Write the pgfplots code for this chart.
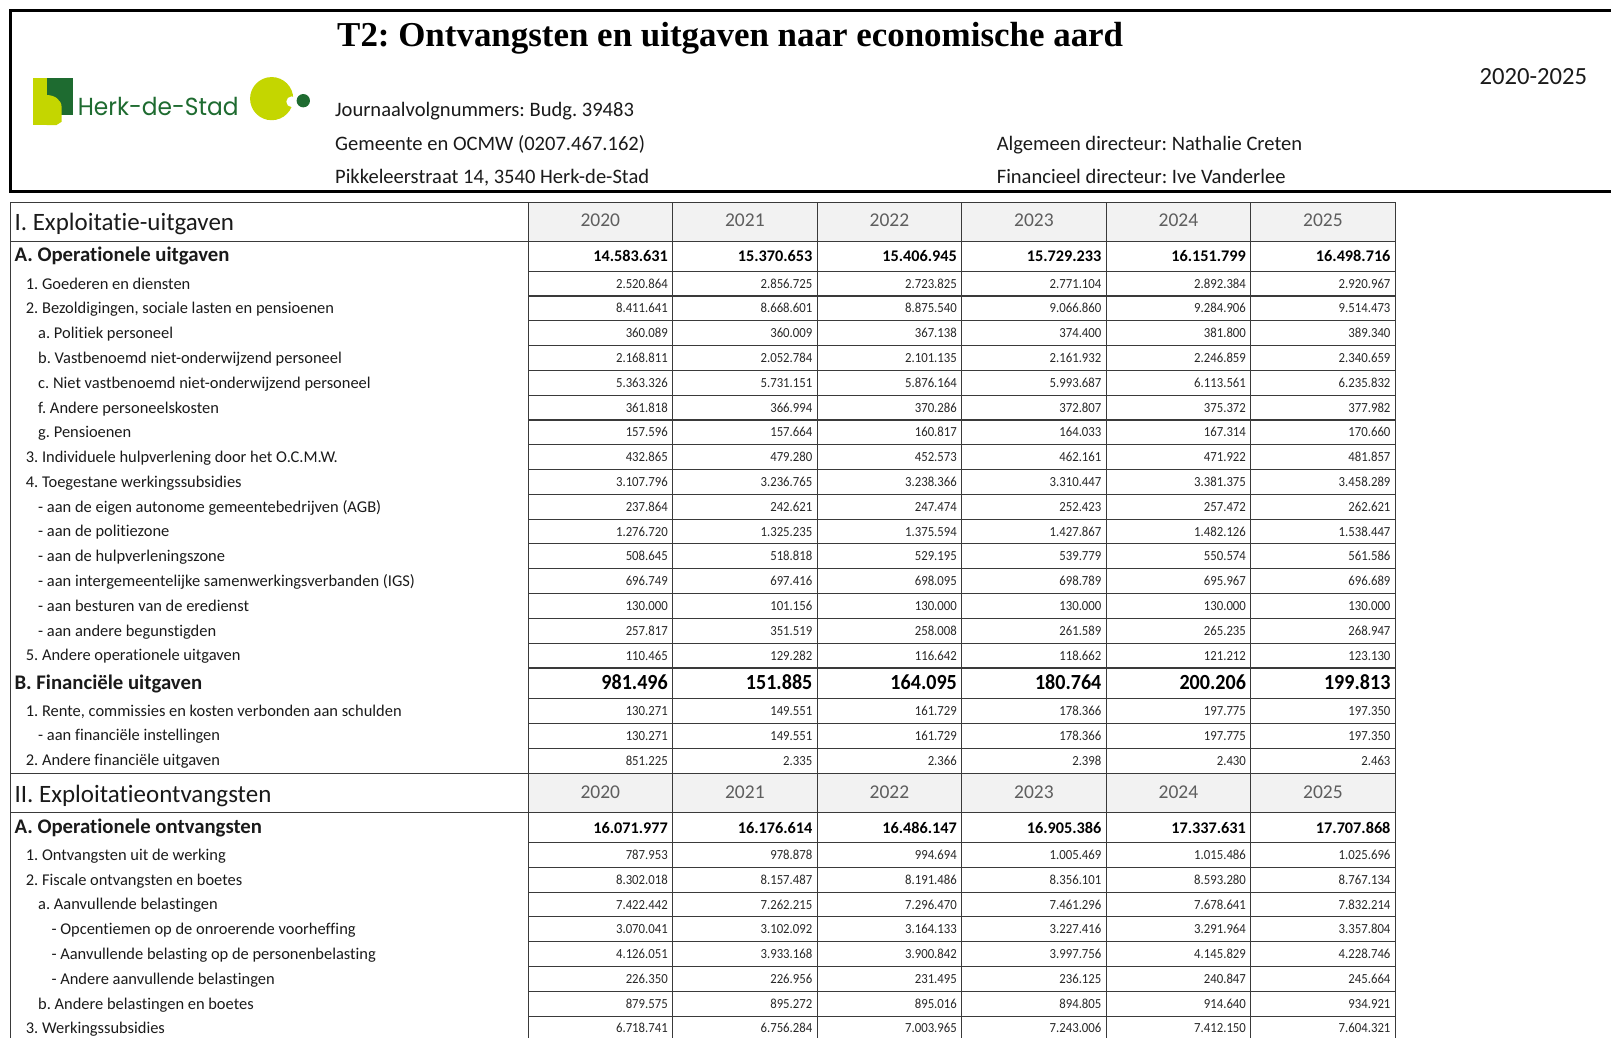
\documentclass[border=0pt]{standalone}
\usepackage{graphicx}
\usepackage{pgfplots}
\pgfplotsset{compat=1.18}
\usepackage{pgfplotstable}
\usepackage{fontspec}
\setmainfont{Carlito}[Ligatures=NoCommon]
\newfontfamily\titlefont{Liberation Serif}
\newfontfamily\logofont{Poppins}
\definecolor{lime}{HTML}{C4D600}
\definecolor{dgreen}{HTML}{1E6B30}
\definecolor{txt}{HTML}{1A1A1A}
\definecolor{numc}{HTML}{262626}
\definecolor{yr}{HTML}{5E5E5E}
\definecolor{gridc}{HTML}{3A3A3A}
\definecolor{hdr}{HTML}{F2F2F2}
\frenchspacing

% integer -> Dutch thousands format (1.234.567)
\newcount\fa \newcount\fb \newcount\fc
\def\threedig#1{\ifnum#1<100 0\fi\ifnum#1<10 0\fi\the#1}
\def\fmtnum#1{%
  \fa=#1\relax
  \ifnum\fa<1000 \the\fa
  \else
    \fb=\numexpr(\fa-500)/1000\relax
    \fc=\numexpr\fa-\fb*1000\relax
    \ifnum\fb<1000 \the\fb.\threedig\fc
    \else
      \fa=\numexpr(\fb-500)/1000\relax
      \fb=\numexpr\fb-\fa*1000\relax
      \the\fa.\threedig\fb.\threedig\fc
    \fi
  \fi}

% ---------------- data (y = text baseline in picture units) ----------------
\pgfplotstableread{
y      v0       v1       v2       v3       v4       v5
280.5  2520864  2856725  2723825  2771104  2892384  2920967
304.6  8411641  8668601  8875540  9066860  9284906  9514473
328.8  360089   360009   367138   374400   381800   389340
352.9  2168811  2052784  2101135  2161932  2246859  2340659
377.0  5363326  5731151  5876164  5993687  6113561  6235832
401.2  361818   366994   370286   372807   375372   377982
425.3  157596   157664   160817   164033   167314   170660
449.4  432865   479280   452573   462161   471922   481857
473.5  3107796  3236765  3238366  3310447  3381375  3458289
497.7  237864   242621   247474   252423   257472   262621
521.8  1276720  1325235  1375594  1427867  1482126  1538447
545.9  508645   518818   529195   539779   550574   561586
570.1  696749   697416   698095   698789   695967   696689
594.2  130000   101156   130000   130000   130000   130000
618.3  257817   351519   258008   261589   265235   268947
642.5  110465   129282   116642   118662   121212   123130
696.4  130271   149551   161729   178366   197775   197350
720.4  130271   149551   161729   178366   197775   197350
744.7  851225   2335     2366     2398     2430     2463
836.5  787953   978878   994694   1005469  1015486  1025696
860.6  8302018  8157487  8191486  8356101  8593280  8767134
884.8  7422442  7262215  7296470  7461296  7678641  7832214
908.9  3070041  3102092  3164133  3227416  3291964  3357804
933.0  4126051  3933168  3900842  3997756  4145829  4228746
957.2  226350   226956   231495   236125   240847   245664
981.3  879575   895272   895016   894805   914640   934921
1005.4 6718741  6756284  7003965  7243006  7412150  7604321
}\rowsdata
\pgfplotstableread{
y      v0        v1        v2        v3        v4        v5
254.8  14583631  15370653  15406945  15729233  16151799  16498716
811.3  16071977  16176614  16486147  16905386  17337631  17707868
}\totalsA
\pgfplotstableread{
y      v0      v1      v2      v3      v4      v5
671.5  981496  151885  164095  180764  200206  199813
}\totalsB

\newcommand{\lab}[3]{\node[anchor=base west, inner sep=0pt, text=txt, font=\fontsize{16}{18}\selectfont] at (axis cs:#1,#2+0.8) {#3};}
\newcommand{\blab}[2]{\node[anchor=base west, inner sep=0pt, text=txt, font=\bfseries\fontsize{20.2}{22}\selectfont] at (axis cs:14,#1) {#2};}

\begin{document}
\begin{tikzpicture}
\begin{axis}[
  scale only axis, width=1568pt, height=1010pt,
  xmin=0, xmax=1568, ymin=0, ymax=1010, y dir=reverse,
  axis lines=none, clip=false]

% ---------- header box ----------
\draw[black, line width=3pt] (axis cs:1575,10) -- (axis cs:10,10) -- (axis cs:10,186.5) -- (axis cs:1575,186.5);
% logo
\fill[lime] (axis cs:31.8,76.2) rectangle (axis cs:45.6,121.7);
\fill[dgreen] (axis cs:45.4,76.2) rectangle (axis cs:70.7,112);
\fill[lime] (axis cs:45.4,121.7) -- (axis cs:45.4,92.5) .. controls (axis cs:53,92.5) and (axis cs:60,97) .. (axis cs:60,104.5) -- (axis cs:60,118.5) -- (axis cs:55,121.7) -- cycle;
\node[anchor=base west, inner sep=0pt, text=dgreen, font=\logofont\fontsize{24}{26}\selectfont] at (axis cs:75.5,112) {\scalebox{0.945}[1]{Herk-de-Stad}};
\fill[lime] (axis cs:264.4,96) circle[radius=21pt];
\fill[white] (axis cs:283.9,99) circle[radius=5.2pt];
\fill[dgreen] (axis cs:295.2,98) circle[radius=6.5pt];
% header texts
\node[anchor=base west, inner sep=0pt, text=black, font=\titlefont\bfseries\fontsize{34}{38}\selectfont] at (axis cs:328,45) {T2: Ontvangsten en uitgaven naar economische aard};
\node[anchor=base east, inner sep=0pt, text=txt, font=\fontsize{24}{26}\selectfont] at (axis cs:1545,82) {2020-2025};
\node[anchor=base west, inner sep=0pt, text=txt, font=\fontsize{20}{22}\selectfont] at (axis cs:326,113.5) {Journaalvolgnummers: Budg. 39483};
\node[anchor=base west, inner sep=0pt, text=txt, font=\fontsize{20}{22}\selectfont] at (axis cs:326,146) {Gemeente en OCMW (0207.467.162)};
\node[anchor=base west, inner sep=0pt, text=txt, font=\fontsize{20}{22}\selectfont] at (axis cs:326,178.5) {Pikkeleerstraat 14, 3540 Herk-de-Stad};
\node[anchor=base west, inner sep=0pt, text=txt, font=\fontsize{20}{22}\selectfont] at (axis cs:970,146) {Algemeen directeur: Nathalie Creten};
\node[anchor=base west, inner sep=0pt, text=txt, font=\fontsize{20}{22}\selectfont] at (axis cs:970,178.5) {Financieel directeur: Ive Vanderlee};

% ---------- table backgrounds ----------
\fill[hdr] (axis cs:514,197) rectangle (axis cs:1358,235);
\fill[hdr] (axis cs:514,753) rectangle (axis cs:1358,791);

% ---------- table grid ----------
\draw[gridc, line width=1.1pt] (axis cs:10,197) -- (axis cs:1358,197);
\draw[gridc, line width=1.1pt] (axis cs:10,235) -- (axis cs:1358,235);
\draw[gridc, line width=1.1pt] (axis cs:10,753) -- (axis cs:1358,753);
\draw[gridc, line width=1.1pt] (axis cs:10,791) -- (axis cs:1358,791);
\pgfplotsinvokeforeach{264,288.1,312.3,336.4,360.5,384.7,408.8,432.9,457.0,481.2,505.3,529.4,553.6,577.7,601.8,626.0,650.1,680,704.2,728.4,820,844.1,868.3,892.4,916.5,940.7,964.8,989,1013.1}{
  \draw[gridc, line width=1.1pt] (axis cs:514,#1) -- (axis cs:1358,#1);
}
\pgfplotsinvokeforeach{10,514,654.7,795.3,936,1076.7,1217.3,1358}{
  \draw[gridc, line width=1.1pt] (axis cs:#1,197) -- (axis cs:#1,1015);
}

% ---------- header rows ----------
\node[anchor=base west, inner sep=0pt, text=txt, font=\fontsize{24.3}{26}\selectfont] at (axis cs:14,224) {I. Exploitatie-uitgaven};
\node[anchor=base west, inner sep=0pt, text=txt, font=\fontsize{24.3}{26}\selectfont] at (axis cs:14,781) {II. Exploitatieontvangsten};
\pgfplotsinvokeforeach{0,...,5}{
  \node[anchor=base, inner sep=0pt, text=yr, font=\fontsize{19}{21}\selectfont] at (axis cs:{584.3+140.67*#1},220.5) {\the\numexpr2020+#1\relax};
  \node[anchor=base, inner sep=0pt, text=yr, font=\fontsize{19}{21}\selectfont] at (axis cs:{584.3+140.67*#1},777.5) {\the\numexpr2020+#1\relax};
}

% ---------- row labels ----------
\blab{254.6}{A. Operationele uitgaven}
\lab{25}{280.5}{1. Goederen en diensten}
\lab{25}{304.6}{2. Bezoldigingen, sociale lasten en pensioenen}
\lab{37}{328.8}{a. Politiek personeel}
\lab{37}{352.9}{b. Vastbenoemd niet-onderwijzend personeel}
\lab{37}{377.0}{c. Niet vastbenoemd niet-onderwijzend personeel}
\lab{37}{401.2}{f. Andere personeelskosten}
\lab{37}{425.3}{g. Pensioenen}
\lab{25}{449.4}{3. Individuele hulpverlening door het O.C.M.W.}
\lab{25}{473.5}{4. Toegestane werkingssubsidies}
\lab{37}{497.7}{- aan de eigen autonome gemeentebedrijven (AGB)}
\lab{37}{521.8}{- aan de politiezone}
\lab{37}{545.9}{- aan de hulpverleningszone}
\lab{37}{570.1}{- aan intergemeentelijke samenwerkingsverbanden (IGS)}
\lab{37}{594.2}{- aan besturen van de eredienst}
\lab{37}{618.3}{- aan andere begunstigden}
\lab{25}{642.5}{5. Andere operationele uitgaven}
\blab{670.6}{B. Financiële uitgaven}
\lab{25}{696.4}{1. Rente, commissies en kosten verbonden aan schulden}
\lab{37}{720.4}{- aan financiële instellingen}
\lab{25}{744.7}{2. Andere financiële uitgaven}
\blab{811.4}{A. Operationele ontvangsten}
\lab{25}{836.5}{1. Ontvangsten uit de werking}
\lab{25}{860.6}{2. Fiscale ontvangsten en boetes}
\lab{37}{884.8}{a. Aanvullende belastingen}
\lab{50}{908.9}{- Opcentiemen op de onroerende voorheffing}
\lab{50}{933.0}{- Aanvullende belasting op de personenbelasting}
\lab{50}{957.2}{- Andere aanvullende belastingen}
\lab{37}{981.3}{b. Andere belastingen en boetes}
\lab{25}{1005.4}{3. Werkingssubsidies}

% ---------- values ----------
\pgfplotsinvokeforeach{0,...,5}{
  \addplot[draw=none, mark=none, point meta=explicit symbolic,
    nodes near coords={\scalebox{0.92}[1]{\fmtnum{\pgfplotspointmeta}}},
    nodes near coords style={anchor=base east, inner sep=0pt, text=numc, font=\fontsize{13.5}{15}\selectfont}]
    table[x expr={514+140.67*(#1+1)-4.5}, y=y, meta=v#1] {\rowsdata};
  \addplot[draw=none, mark=none, point meta=explicit symbolic,
    nodes near coords={\fmtnum{\pgfplotspointmeta}},
    nodes near coords style={anchor=base east, inner sep=0pt, text=black, font=\bfseries\fontsize{15.8}{18}\selectfont}]
    table[x expr={514+140.67*(#1+1)-4.5}, y=y, meta=v#1] {\totalsA};
  \addplot[draw=none, mark=none, point meta=explicit symbolic,
    nodes near coords={\scalebox{0.93}[1]{\fmtnum{\pgfplotspointmeta}}},
    nodes near coords style={anchor=base east, inner sep=0pt, text=black, font=\bfseries\fontsize{21}{23}\selectfont}]
    table[x expr={514+140.67*(#1+1)-4.5}, y=y, meta=v#1] {\totalsB};
}
\end{axis}
\pgfresetboundingbox
\useasboundingbox (current axis.south west) rectangle (current axis.north east);
\end{tikzpicture}
\end{document}
